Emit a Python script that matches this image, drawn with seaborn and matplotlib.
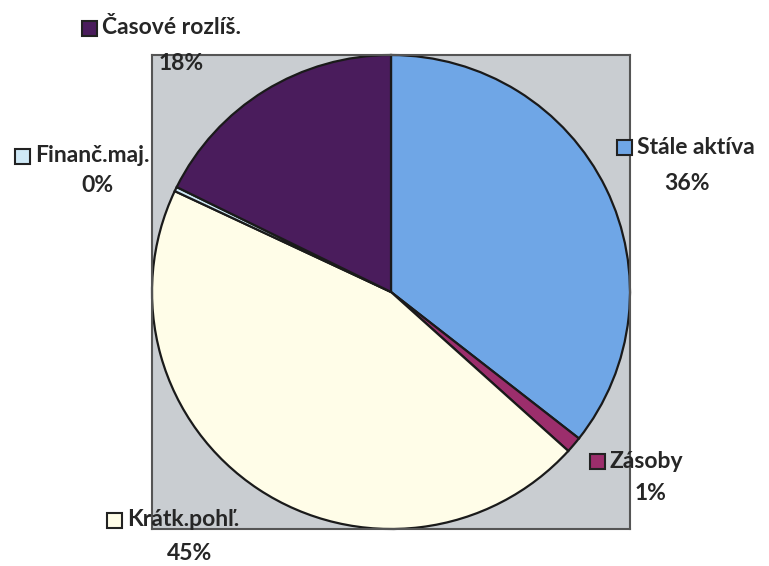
import matplotlib
matplotlib.use("Agg")
import matplotlib.pyplot as plt
import seaborn as sns
from matplotlib.patches import Rectangle

categories = ["Stále aktíva", "Zásoby", "Krátk.pohľ.", "Finanč.maj.", "Časové rozlíš."]
values = [35.6, 1.1, 45.3, 0.3, 17.7]
pct_labels = ["36%", "1%", "45%", "0%", "18%"]
colors = ["#6fa6e6", "#9c2e6c", "#fffde8", "#cfe9f7", "#4a1c5c"]

sns.set_theme(style="white")
plt.rcParams['font.family'] = ['Lato', 'DejaVu Sans']

W, H = 769, 566
fig = plt.figure(figsize=(W / 100, H / 100), dpi=100)
fig.patch.set_facecolor("white")

# plot area (gray square)
x0, x1, yt, yb = 152, 630, 55, 529
ax = fig.add_axes([x0 / W, (H - yb) / H, (x1 - x0) / W, (yb - yt) / H])

ax.pie(values, colors=colors, startangle=90, counterclock=False, frame=True,
       radius=1.0, wedgeprops=dict(edgecolor="#1a1a1a", linewidth=1.6))
ax.set_facecolor("#c9cdd1")
ax.set_frame_on(True)
for s in ax.spines.values():
    s.set_visible(True)
    s.set_color("#555555")
    s.set_linewidth(1.5)
ax.set_xlim(-1.0, 1.0)
ax.set_ylim(-1.0, 1.0)
ax.set_aspect("auto")
ax.set_xticks([])
ax.set_yticks([])

# labels: (square left x, name center y, pct center x, pct y)
label_pos = {
    "Stále aktíva": (617, 147, 687, 184),
    "Zásoby": (590, 461, 650, 494),
    "Krátk.pohľ.": (107, 520, 190, 553),
    "Finanč.maj.": (15, 156, 97, 186),
    "Časové rozlíš.": (82, 28, 181, 63),
}
fs = 16.5
for cat, col, pct in zip(categories, colors, pct_labels):
    sx, sy, px, py = label_pos[cat]
    sq = 15
    fig.patches.append(Rectangle((sx / W, (H - sy - sq / 2) / H), sq / W, sq / H,
                                 transform=fig.transFigure, facecolor=col,
                                 edgecolor="#222222", linewidth=1.5, zorder=5))
    fig.text((sx + sq + 5) / W, (H - sy) / H, cat, ha="left", va="center",
             fontsize=fs, fontweight="bold", color="#262626", zorder=6)
    fig.text(px / W, (H - py) / H, pct, ha="center", va="center",
             fontsize=fs, fontweight="bold", color="#262626", zorder=6)

fig.savefig("out.png", dpi=100)
